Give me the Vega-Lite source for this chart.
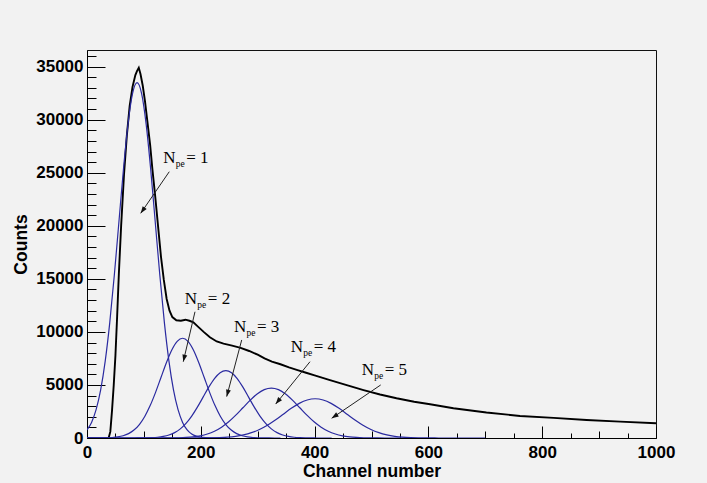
{
  "$schema": "https://vega.github.io/schema/vega-lite/v6.json",
  "width": 569,
  "height": 388,
  "autosize": {"type": "none"},
  "padding": {"left": 87, "top": 50, "right": 51, "bottom": 45},
  "background": "#f2f2f2",
  "config": {
    "view": {"stroke": "#111", "strokeWidth": 1, "fill": "#f2f2f2"},
    "axis": {"grid": false, "tickColor": "#000", "domainColor": "#000", "tickWidth": 1, "domainWidth": 1, "labelColor": "#000", "titleColor": "#000", "labelFont": "Liberation Sans", "titleFont": "Liberation Sans", "labelFontWeight": "bold", "titleFontWeight": "bold", "labelFontSize": 17, "titleFontSize": 17.5, "labelOverlap": false, "labelFlush": false}
  },
  "datasets": {
    "hist": [
      {"x": 0, "y": 0}, {"x": 38, "y": 0}, {"x": 41, "y": 600}, {"x": 44, "y": 2600}, {"x": 47, "y": 5000}, {"x": 50, "y": 7800}, {"x": 53, "y": 11500}, {"x": 56, "y": 15500}, {"x": 60, "y": 20000}, {"x": 65, "y": 24800}, {"x": 70, "y": 28500}, {"x": 75, "y": 31300}, {"x": 80, "y": 33100}, {"x": 85, "y": 34200}, {"x": 88, "y": 34600}, {"x": 91, "y": 34900}, {"x": 94, "y": 34300}, {"x": 98, "y": 33200}, {"x": 102, "y": 31700}, {"x": 106, "y": 29900}, {"x": 111, "y": 27600}, {"x": 115, "y": 25300}, {"x": 120, "y": 22700}, {"x": 125, "y": 19900}, {"x": 130, "y": 17100}, {"x": 135, "y": 14900}, {"x": 140, "y": 13100}, {"x": 145, "y": 12000}, {"x": 150, "y": 11400}, {"x": 157, "y": 11100}, {"x": 165, "y": 11050}, {"x": 173, "y": 11150}, {"x": 180, "y": 11050}, {"x": 187, "y": 10900}, {"x": 195, "y": 10500}, {"x": 205, "y": 10000}, {"x": 216, "y": 9500}, {"x": 228, "y": 9100}, {"x": 240, "y": 8900}, {"x": 255, "y": 8700}, {"x": 270, "y": 8500}, {"x": 285, "y": 8200}, {"x": 300, "y": 7850}, {"x": 312, "y": 7500}, {"x": 325, "y": 7200}, {"x": 340, "y": 6950}, {"x": 355, "y": 6650}, {"x": 370, "y": 6400}, {"x": 385, "y": 6150}, {"x": 400, "y": 5900}, {"x": 427, "y": 5450}, {"x": 455, "y": 5000}, {"x": 486, "y": 4520}, {"x": 515, "y": 4100}, {"x": 544, "y": 3750}, {"x": 575, "y": 3420}, {"x": 603, "y": 3180}, {"x": 644, "y": 2800}, {"x": 702, "y": 2400}, {"x": 761, "y": 2080}, {"x": 820, "y": 1900}, {"x": 878, "y": 1700}, {"x": 937, "y": 1540}, {"x": 1000, "y": 1390}
    ],
    "fits": [
      {"n": 1, "x": 0, "y": 764}, {"n": 1, "x": 8, "y": 1471}, {"n": 1, "x": 16, "y": 2667}, {"n": 1, "x": 24, "y": 4533}, {"n": 1, "x": 32, "y": 7246}, {"n": 1, "x": 40, "y": 10877}, {"n": 1, "x": 48, "y": 15336}, {"n": 1, "x": 56, "y": 20318}, {"n": 1, "x": 64, "y": 25286}, {"n": 1, "x": 72, "y": 29564}, {"n": 1, "x": 80, "y": 32468}, {"n": 1, "x": 88, "y": 33500}, {"n": 1, "x": 96, "y": 32468}, {"n": 1, "x": 104, "y": 29564}, {"n": 1, "x": 112, "y": 25286}, {"n": 1, "x": 120, "y": 20318}, {"n": 1, "x": 128, "y": 15336}, {"n": 1, "x": 136, "y": 10877}, {"n": 1, "x": 144, "y": 7246}, {"n": 1, "x": 152, "y": 4533}, {"n": 1, "x": 160, "y": 2667}, {"n": 1, "x": 168, "y": 1471}, {"n": 1, "x": 176, "y": 764}, {"n": 1, "x": 184, "y": 372}, {"n": 1, "x": 192, "y": 171}, {"n": 1, "x": 200, "y": 74}, {"n": 1, "x": 208, "y": 29}, {"n": 1, "x": 216, "y": 11}, {"n": 1, "x": 240, "y": 0},
      {"n": 2, "x": 0, "y": 0}, {"n": 2, "x": 16, "y": 3}, {"n": 2, "x": 25.5, "y": 8}, {"n": 2, "x": 35, "y": 21}, {"n": 2, "x": 44.5, "y": 48}, {"n": 2, "x": 54, "y": 104}, {"n": 2, "x": 63.5, "y": 214}, {"n": 2, "x": 73, "y": 413}, {"n": 2, "x": 82.5, "y": 748}, {"n": 2, "x": 92, "y": 1272}, {"n": 2, "x": 101.5, "y": 2033}, {"n": 2, "x": 111, "y": 3052}, {"n": 2, "x": 120.5, "y": 4303}, {"n": 2, "x": 130, "y": 5701}, {"n": 2, "x": 139.5, "y": 7095}, {"n": 2, "x": 149, "y": 8296}, {"n": 2, "x": 158.5, "y": 9110}, {"n": 2, "x": 168, "y": 9400}, {"n": 2, "x": 177.5, "y": 9110}, {"n": 2, "x": 187, "y": 8296}, {"n": 2, "x": 196.5, "y": 7095}, {"n": 2, "x": 206, "y": 5701}, {"n": 2, "x": 215.5, "y": 4303}, {"n": 2, "x": 225, "y": 3052}, {"n": 2, "x": 234.5, "y": 2033}, {"n": 2, "x": 244, "y": 1272}, {"n": 2, "x": 253.5, "y": 748}, {"n": 2, "x": 263, "y": 413}, {"n": 2, "x": 272.5, "y": 214}, {"n": 2, "x": 282, "y": 104}, {"n": 2, "x": 291.5, "y": 48}, {"n": 2, "x": 301, "y": 21}, {"n": 2, "x": 310.5, "y": 8}, {"n": 2, "x": 320, "y": 3}, {"n": 2, "x": 340, "y": 0},
      {"n": 3, "x": 0, "y": 0}, {"n": 3, "x": 84, "y": 2}, {"n": 3, "x": 94, "y": 6}, {"n": 3, "x": 104, "y": 14}, {"n": 3, "x": 114, "y": 32}, {"n": 3, "x": 124, "y": 70}, {"n": 3, "x": 134, "y": 145}, {"n": 3, "x": 144, "y": 279}, {"n": 3, "x": 154, "y": 505}, {"n": 3, "x": 164, "y": 859}, {"n": 3, "x": 174, "y": 1374}, {"n": 3, "x": 184, "y": 2062}, {"n": 3, "x": 194, "y": 2907}, {"n": 3, "x": 204, "y": 3851}, {"n": 3, "x": 214, "y": 4793}, {"n": 3, "x": 224, "y": 5604}, {"n": 3, "x": 234, "y": 6154}, {"n": 3, "x": 244, "y": 6350}, {"n": 3, "x": 254, "y": 6154}, {"n": 3, "x": 264, "y": 5604}, {"n": 3, "x": 274, "y": 4793}, {"n": 3, "x": 284, "y": 3851}, {"n": 3, "x": 294, "y": 2907}, {"n": 3, "x": 304, "y": 2062}, {"n": 3, "x": 314, "y": 1374}, {"n": 3, "x": 324, "y": 859}, {"n": 3, "x": 334, "y": 505}, {"n": 3, "x": 344, "y": 279}, {"n": 3, "x": 354, "y": 145}, {"n": 3, "x": 364, "y": 70}, {"n": 3, "x": 374, "y": 32}, {"n": 3, "x": 384, "y": 14}, {"n": 3, "x": 394, "y": 6}, {"n": 3, "x": 404, "y": 2}, {"n": 3, "x": 430, "y": 0},
      {"n": 4, "x": 0, "y": 0}, {"n": 4, "x": 124, "y": 2}, {"n": 4, "x": 136.5, "y": 4}, {"n": 4, "x": 149, "y": 10}, {"n": 4, "x": 161.5, "y": 24}, {"n": 4, "x": 174, "y": 52}, {"n": 4, "x": 186.5, "y": 107}, {"n": 4, "x": 199, "y": 206}, {"n": 4, "x": 211.5, "y": 374}, {"n": 4, "x": 224, "y": 636}, {"n": 4, "x": 236.5, "y": 1017}, {"n": 4, "x": 249, "y": 1526}, {"n": 4, "x": 261.5, "y": 2152}, {"n": 4, "x": 274, "y": 2851}, {"n": 4, "x": 286.5, "y": 3548}, {"n": 4, "x": 299, "y": 4148}, {"n": 4, "x": 311.5, "y": 4555}, {"n": 4, "x": 324, "y": 4700}, {"n": 4, "x": 336.5, "y": 4555}, {"n": 4, "x": 349, "y": 4148}, {"n": 4, "x": 361.5, "y": 3548}, {"n": 4, "x": 374, "y": 2851}, {"n": 4, "x": 386.5, "y": 2152}, {"n": 4, "x": 399, "y": 1526}, {"n": 4, "x": 411.5, "y": 1017}, {"n": 4, "x": 424, "y": 636}, {"n": 4, "x": 436.5, "y": 374}, {"n": 4, "x": 449, "y": 206}, {"n": 4, "x": 461.5, "y": 107}, {"n": 4, "x": 474, "y": 52}, {"n": 4, "x": 486.5, "y": 24}, {"n": 4, "x": 499, "y": 10}, {"n": 4, "x": 511.5, "y": 4}, {"n": 4, "x": 524, "y": 2}, {"n": 4, "x": 560, "y": 0},
      {"n": 5, "x": 0, "y": 0}, {"n": 5, "x": 177, "y": 1}, {"n": 5, "x": 191, "y": 3}, {"n": 5, "x": 205, "y": 8}, {"n": 5, "x": 219, "y": 19}, {"n": 5, "x": 233, "y": 41}, {"n": 5, "x": 247, "y": 84}, {"n": 5, "x": 261, "y": 162}, {"n": 5, "x": 275, "y": 295}, {"n": 5, "x": 289, "y": 501}, {"n": 5, "x": 303, "y": 800}, {"n": 5, "x": 317, "y": 1201}, {"n": 5, "x": 331, "y": 1694}, {"n": 5, "x": 345, "y": 2244}, {"n": 5, "x": 359, "y": 2793}, {"n": 5, "x": 373, "y": 3265}, {"n": 5, "x": 387, "y": 3586}, {"n": 5, "x": 401, "y": 3700}, {"n": 5, "x": 415, "y": 3586}, {"n": 5, "x": 429, "y": 3265}, {"n": 5, "x": 443, "y": 2793}, {"n": 5, "x": 457, "y": 2244}, {"n": 5, "x": 471, "y": 1694}, {"n": 5, "x": 485, "y": 1201}, {"n": 5, "x": 499, "y": 800}, {"n": 5, "x": 513, "y": 501}, {"n": 5, "x": 527, "y": 295}, {"n": 5, "x": 541, "y": 162}, {"n": 5, "x": 555, "y": 84}, {"n": 5, "x": 569, "y": 41}, {"n": 5, "x": 583, "y": 19}, {"n": 5, "x": 597, "y": 8}, {"n": 5, "x": 611, "y": 3}, {"n": 5, "x": 625, "y": 1}, {"n": 5, "x": 700, "y": 0}
    ],
    "labels": [
      {"n": 1, "x": 134, "y": 25920, "rest": "= 1"},
      {"n": 2, "x": 172, "y": 12630, "rest": "= 2"},
      {"n": 3, "x": 258.3, "y": 10020, "rest": "= 3"},
      {"n": 4, "x": 358, "y": 8140, "rest": "= 4"},
      {"n": 5, "x": 482.8, "y": 5940, "rest": "= 5"}
    ],
    "arrows": [
      {"n": 1, "x": 144.6, "y": 25100, "x2": 94.4, "y2": 21180, "angle": 214.5},
      {"n": 2, "x": 189.8, "y": 11900, "x2": 169.2, "y2": 7190, "angle": 193},
      {"n": 3, "x": 271.9, "y": 9240, "x2": 245.5, "y2": 3900, "angle": 195},
      {"n": 4, "x": 391.9, "y": 7190, "x2": 331.6, "y2": 3200, "angle": 219},
      {"n": 5, "x": 516.2, "y": 5000, "x2": 430, "y2": 1860, "angle": 236}
    ]
  },
  "resolve": {"axis": {"x": "independent", "y": "independent"}},
  "layer": [
    {
      "data": {"name": "hist"},
      "mark": {"type": "line", "color": "#000", "strokeWidth": 1.9, "interpolate": "linear", "clip": true},
      "encoding": {
        "x": {"field": "x", "type": "quantitative", "scale": {"domain": [0, 1000], "nice": false, "zero": false},
          "axis": {"orient": "bottom", "values": [0, 200, 400, 600, 800, 1000], "format": "d", "tickSize": -12, "labelPadding": 18, "title": "Channel number", "titlePadding": 2}},
        "y": {"field": "y", "type": "quantitative", "scale": {"domain": [0, 36570], "nice": false, "zero": true},
          "axis": {"orient": "left", "values": [0, 5000, 10000, 15000, 20000, 25000, 30000, 35000], "format": "d", "tickSize": -18, "labelPadding": 22, "title": "Counts", "titlePadding": 5}}
      }
    },
    {
      "data": {"name": "fits"},
      "mark": {"type": "line", "color": "#2a2aa0", "strokeWidth": 1.2, "interpolate": "monotone", "clip": true},
      "encoding": {
        "x": {"field": "x", "type": "quantitative",
          "axis": {"orient": "bottom", "values": [100, 300, 500, 700, 900], "tickSize": -7, "labels": false, "domain": false, "title": null}},
        "y": {"field": "y", "type": "quantitative",
          "axis": {"orient": "left", "values": [1000, 2000, 3000, 4000, 6000, 7000, 8000, 9000, 11000, 12000, 13000, 14000, 16000, 17000, 18000, 19000, 21000, 22000, 23000, 24000, 26000, 27000, 28000, 29000, 31000, 32000, 33000, 34000, 36000], "tickSize": -9, "labels": false, "domain": false, "title": null}},
        "detail": {"field": "n", "type": "nominal"}
      }
    },
    {
      "data": {"name": "labels"},
      "mark": {"type": "text", "text": "N", "font": "Liberation Serif", "fontSize": 17, "align": "left", "baseline": "alphabetic", "color": "#000"},
      "encoding": {
        "x": {"field": "x", "type": "quantitative",
          "axis": {"orient": "bottom", "values": [50, 150, 250, 350, 450, 550, 650, 750, 850, 950], "tickSize": -5, "labels": false, "domain": false, "title": null}},
        "y": {"field": "y", "type": "quantitative", "axis": null}
      }
    },
    {
      "data": {"name": "labels"},
      "mark": {"type": "text", "text": "pe", "font": "Liberation Serif", "fontSize": 9.5, "align": "left", "baseline": "alphabetic", "dx": 12.5, "dy": 4, "color": "#000"},
      "encoding": {
        "x": {"field": "x", "type": "quantitative", "axis": null},
        "y": {"field": "y", "type": "quantitative", "axis": null}
      }
    },
    {
      "data": {"name": "labels"},
      "mark": {"type": "text", "font": "Liberation Serif", "fontSize": 17, "align": "left", "baseline": "alphabetic", "dx": 23, "color": "#000"},
      "encoding": {
        "x": {"field": "x", "type": "quantitative", "axis": null},
        "y": {"field": "y", "type": "quantitative", "axis": null},
        "text": {"field": "rest"}
      }
    },
    {
      "data": {"name": "arrows"},
      "mark": {"type": "rule", "color": "#222", "strokeWidth": 1},
      "encoding": {
        "x": {"field": "x", "type": "quantitative", "axis": null},
        "y": {"field": "y", "type": "quantitative", "axis": null},
        "x2": {"field": "x2"},
        "y2": {"field": "y2"}
      }
    },
    {
      "data": {"name": "arrows"},
      "mark": {"type": "point", "shape": "M0,0L0.7,2L-0.7,2Z", "filled": true, "color": "#111", "size": 49, "opacity": 1},
      "encoding": {
        "x": {"field": "x2", "type": "quantitative", "axis": null},
        "y": {"field": "y2", "type": "quantitative", "axis": null},
        "angle": {"field": "angle", "type": "quantitative", "scale": null}
      }
    }
  ]
}
